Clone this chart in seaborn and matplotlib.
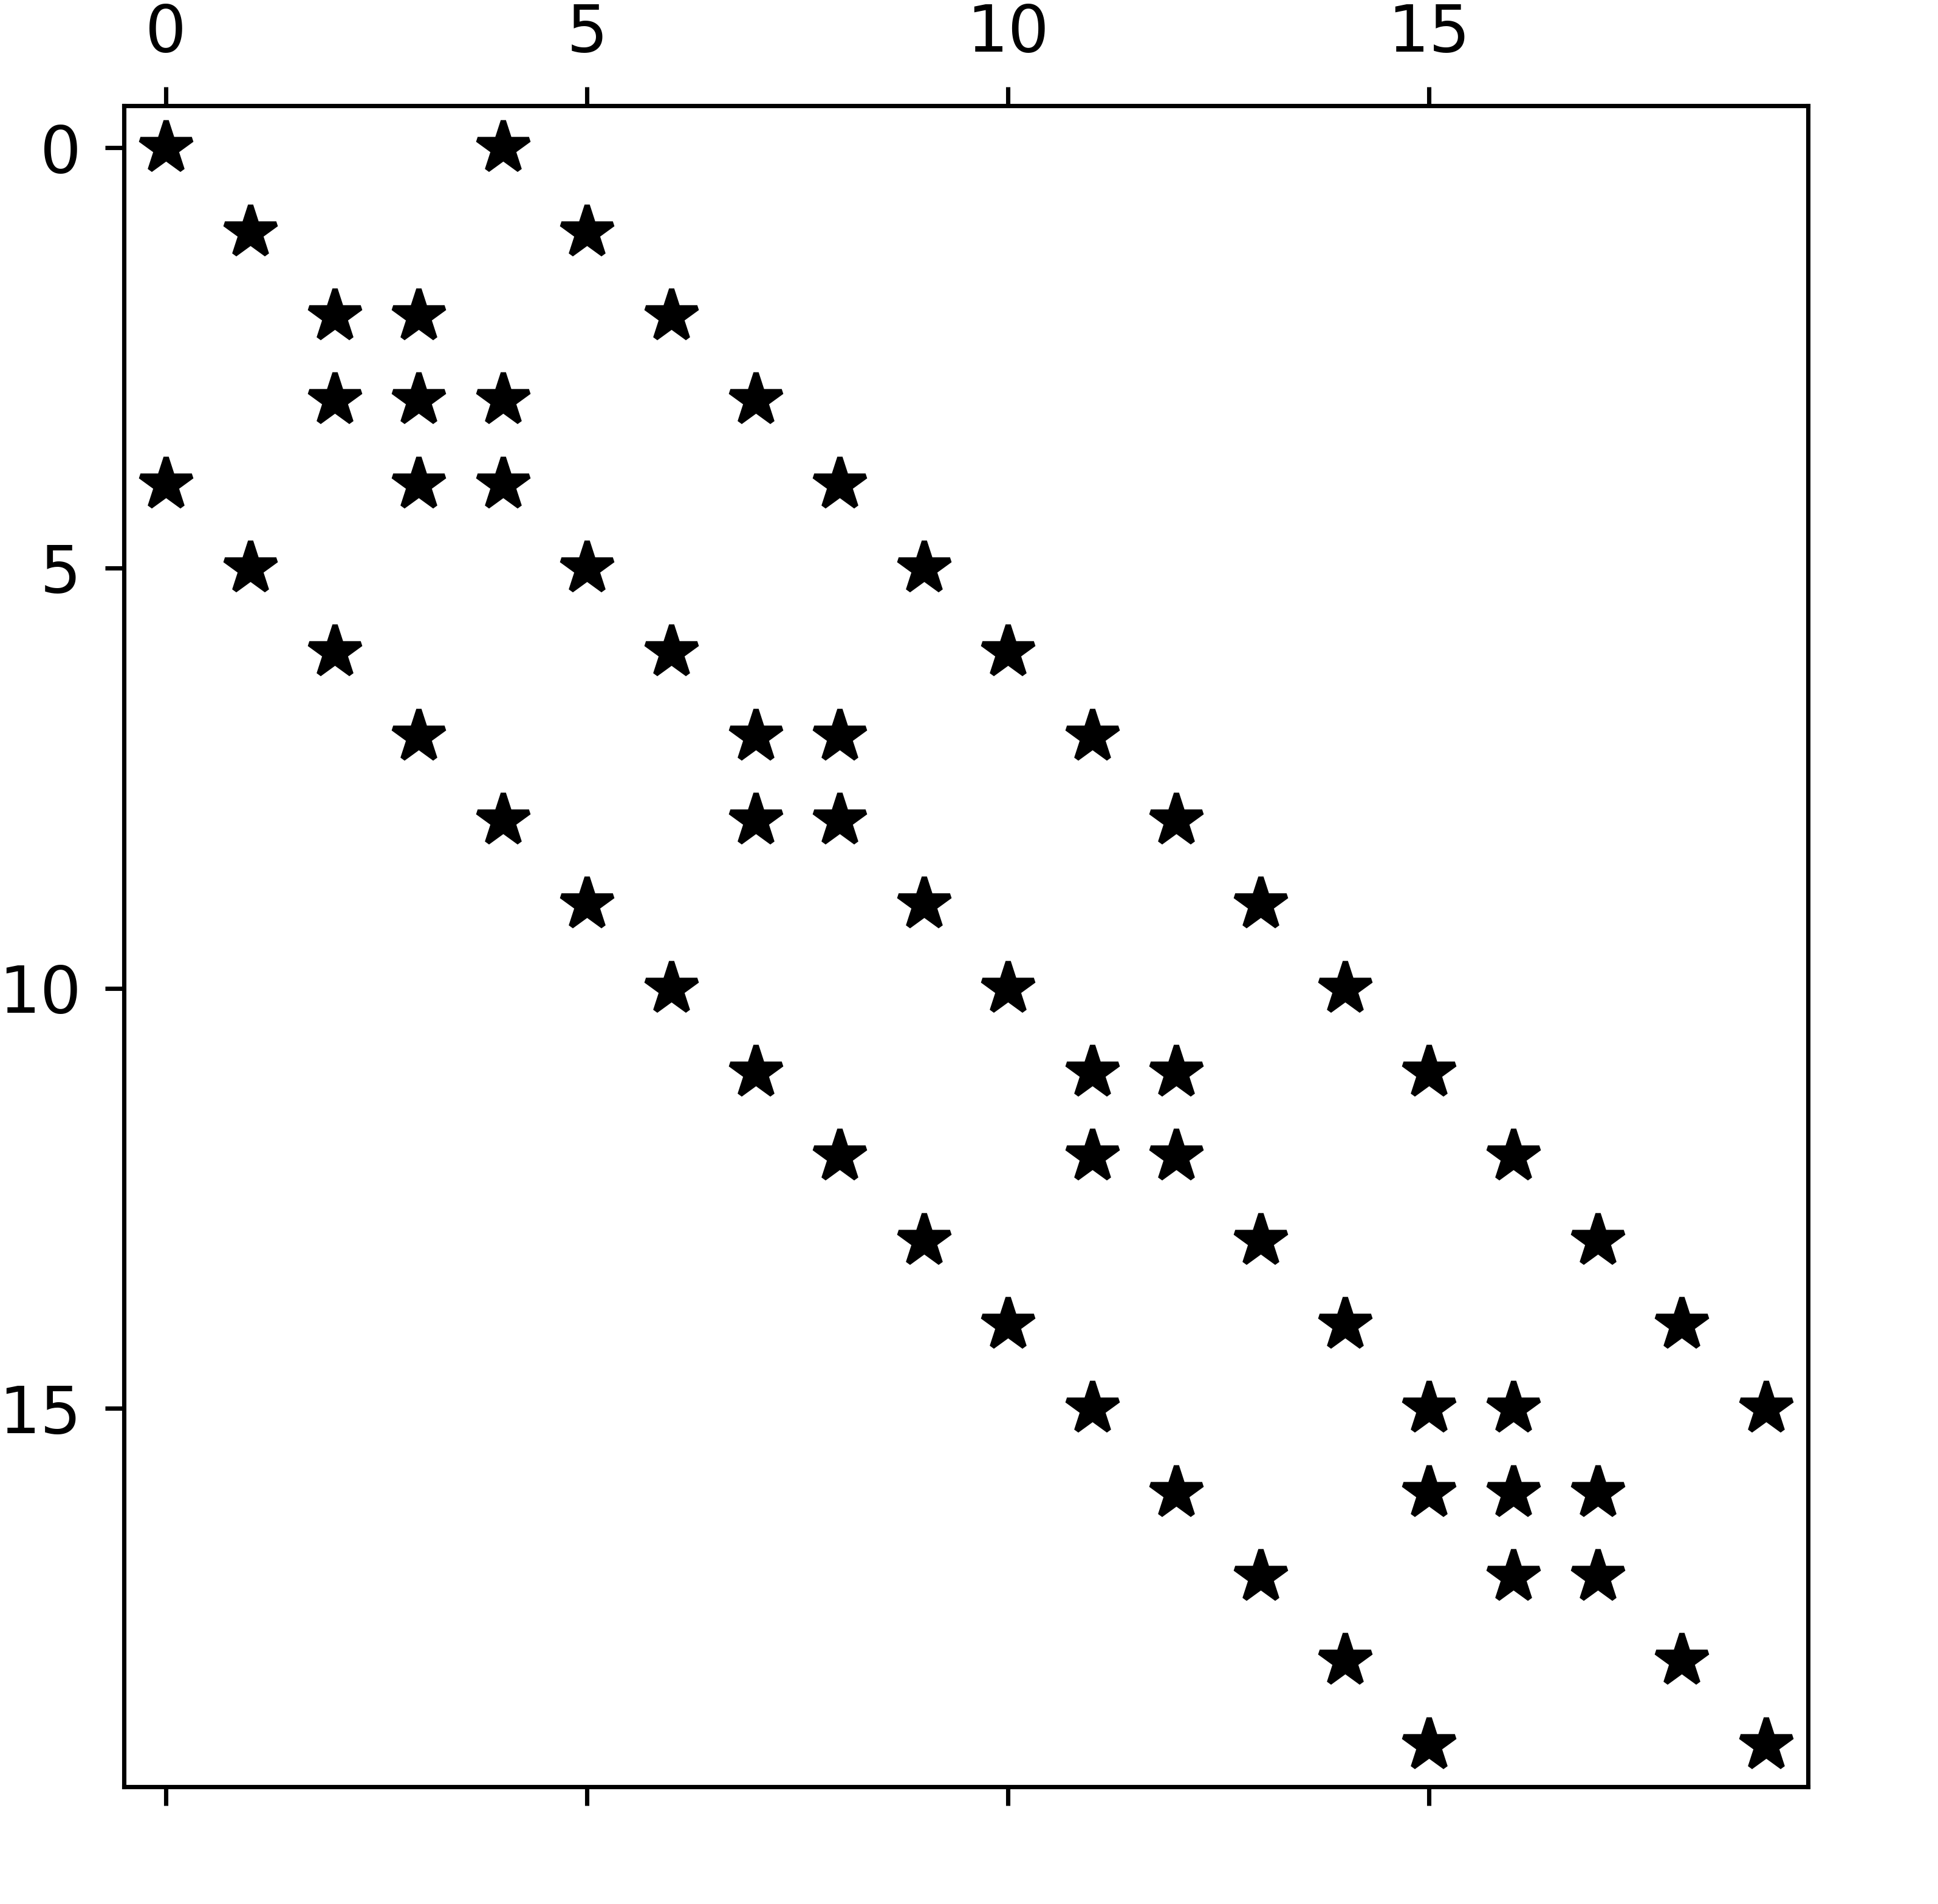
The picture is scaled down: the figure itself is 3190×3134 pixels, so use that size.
import pandas as pd
import seaborn as sns
import matplotlib.pyplot as plt
from matplotlib.ticker import MaxNLocator

# nonzero column indices for each row of the 20x20 matrix
row_0 = [0, 4]
row_1 = [1, 5]
row_2 = [2, 3, 6]
row_3 = [2, 3, 4, 7]
row_4 = [0, 3, 4, 8]
row_5 = [1, 5, 9]
row_6 = [2, 6, 10]
row_7 = [3, 7, 8, 11]
row_8 = [4, 7, 8, 12]
row_9 = [5, 9, 13]
row_10 = [6, 10, 14]
row_11 = [7, 11, 12, 15]
row_12 = [8, 11, 12, 16]
row_13 = [9, 13, 17]
row_14 = [10, 14, 18]
row_15 = [11, 15, 16, 19]
row_16 = [12, 15, 16, 17]
row_17 = [13, 16, 17]
row_18 = [14, 18]
row_19 = [15, 19]

rows = [row_0, row_1, row_2, row_3, row_4, row_5, row_6, row_7, row_8, row_9,
        row_10, row_11, row_12, row_13, row_14, row_15, row_16, row_17, row_18, row_19]
n = len(rows)

records = []
for r, cols in enumerate(rows):
    for c in cols:
        records.append({"row": r, "col": c})
df = pd.DataFrame(records)

dpi = 640
plt.rcParams["font.family"] = ["DejaVu Sans"]
plt.rcParams["font.size"] = 12

fig = plt.figure(figsize=(3190 / dpi, 3134 / dpi), dpi=dpi)
ax = fig.add_axes([204 / 3190, 1 - 2941 / 3134, (2976 - 204) / 3190, (2941 - 174) / 3134])

sns.scatterplot(data=df, x="col", y="row", marker="*", s=100, color="black",
                edgecolor="black", linewidth=1, joinstyle="bevel", ax=ax, legend=False)

ax.set_xlim(-0.5, n - 0.5)
ax.set_ylim(n - 0.5, -0.5)
ax.set_xlabel("")
ax.set_ylabel("")

ax.xaxis.set_major_locator(MaxNLocator(nbins=9, steps=[1, 2, 5, 10], integer=True))
ax.yaxis.set_major_locator(MaxNLocator(nbins=9, steps=[1, 2, 5, 10], integer=True))
ax.xaxis.tick_top()
ax.xaxis.set_ticks_position("both")
ax.tick_params(labelsize=12, length=3.5, width=0.8)
ax.tick_params(axis="x", pad=4.0)
ax.tick_params(axis="y", pad=4.4)
for sp in ax.spines.values():
    sp.set_linewidth(0.8)
    sp.set_color("black")

fig.savefig("out.png", dpi=dpi)
